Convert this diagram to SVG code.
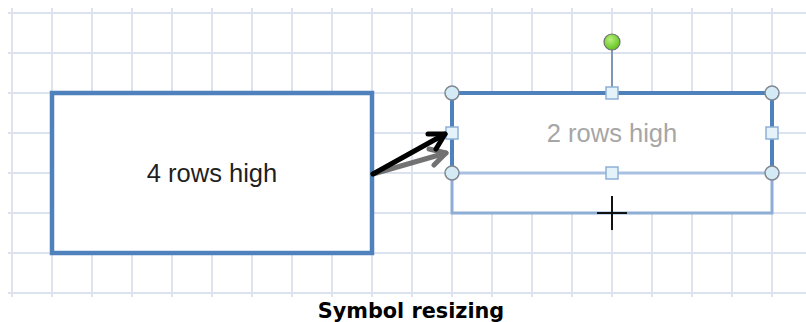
<svg xmlns="http://www.w3.org/2000/svg" width="806" height="322" viewBox="0 0 806 322">
<defs>
<style>
.grid line{stroke:#dce3ee;stroke-width:2}
.lbl{font-family:"Liberation Sans",Arial,sans-serif;font-size:25.5px;text-anchor:middle}
.hc{fill:#d4eaf4;stroke:#808890;stroke-width:1.5}
.hs{fill:#e4f3f9;stroke:#8fb0d6;stroke-width:1.5}
</style>
<radialGradient id="gg" cx="0.4" cy="0.35" r="0.7">
<stop offset="0" stop-color="#b8f07a"/><stop offset="1" stop-color="#5cbf1a"/>
</radialGradient>
<radialGradient id="bc" cx="0.4" cy="0.35" r="0.7">
<stop offset="0" stop-color="#eef8fc"/><stop offset="1" stop-color="#a9d4e6"/>
</radialGradient>
</defs>
<rect width="806" height="322" fill="#ffffff"/>
<g id="grid" class="grid">
<line x1="8" y1="13" x2="806" y2="13"/><line x1="8" y1="53" x2="806" y2="53"/><line x1="8" y1="93" x2="806" y2="93"/><line x1="8" y1="133" x2="806" y2="133"/><line x1="8" y1="173" x2="806" y2="173"/><line x1="8" y1="213" x2="806" y2="213"/><line x1="8" y1="253" x2="806" y2="253"/><line x1="8" y1="293" x2="806" y2="293"/>
<line x1="12" y1="8" x2="12" y2="297"/><line x1="52" y1="8" x2="52" y2="297"/><line x1="92" y1="8" x2="92" y2="297"/><line x1="132" y1="8" x2="132" y2="297"/><line x1="172" y1="8" x2="172" y2="297"/><line x1="212" y1="8" x2="212" y2="297"/><line x1="252" y1="8" x2="252" y2="297"/><line x1="292" y1="8" x2="292" y2="297"/><line x1="332" y1="8" x2="332" y2="297"/><line x1="372" y1="8" x2="372" y2="297"/><line x1="412" y1="8" x2="412" y2="297"/><line x1="452" y1="8" x2="452" y2="297"/><line x1="492" y1="8" x2="492" y2="297"/><line x1="532" y1="8" x2="532" y2="297"/><line x1="572" y1="8" x2="572" y2="297"/><line x1="612" y1="8" x2="612" y2="297"/><line x1="652" y1="8" x2="652" y2="297"/><line x1="692" y1="8" x2="692" y2="297"/><line x1="732" y1="8" x2="732" y2="297"/><line x1="772" y1="8" x2="772" y2="297"/>
</g>
<g id="node-left">
<rect x="52" y="93" width="320" height="160" fill="#ffffff" stroke="#4f81bd" stroke-width="4.5"/>
<text class="lbl" x="212" y="182" fill="#1f1f1f">4 rows high</text>
</g>
<g id="node-right">
<rect x="452" y="93" width="320" height="120" fill="#ffffff" stroke="none"/>
<path d="M452 173 V213 H772 V173" fill="none" stroke="#8eaed6" stroke-width="3"/>
<line x1="452" y1="173" x2="772" y2="173" stroke="#a9c1e0" stroke-width="3"/>
<path d="M452 173 V93 H772 V173" fill="none" stroke="#4f81bd" stroke-width="4"/>
<text class="lbl" x="612" y="142" fill="#a6a6a6">2 rows high</text>
<line x1="612" y1="50" x2="612" y2="88" stroke="#7f98b8" stroke-width="2"/>
<circle cx="612" cy="42" r="8" fill="url(#gg)" stroke="#707070" stroke-width="1.2"/>
<circle class="hc" cx="452" cy="93" r="7" fill="url(#bc)"/>
<circle class="hc" cx="772" cy="93" r="7" fill="url(#bc)"/>
<circle class="hc" cx="452" cy="173" r="7" fill="url(#bc)"/>
<circle class="hc" cx="772" cy="173" r="7" fill="url(#bc)"/>
<rect class="hs" x="606" y="87" width="12" height="12"/>
<rect class="hs" x="446" y="127" width="12" height="12"/>
<rect class="hs" x="766" y="127" width="12" height="12"/>
<rect class="hs" x="606" y="167" width="12" height="12"/>
<path d="M612 196 V230 M597 213 H627" stroke="#111111" stroke-width="2" fill="none"/>
</g>
<g id="connectors" fill="none" stroke-linecap="round" stroke-linejoin="round">
<g stroke="#5a5a5a" stroke-width="5" opacity="0.85">
<line x1="373" y1="174" x2="446" y2="153"/>
<polyline points="429,149 446,153 434,165"/>
</g>
<g stroke="#000000" stroke-width="5">
<line x1="373" y1="174" x2="445" y2="134"/>
<polyline points="428,134 445,134 436,149"/>
</g>
</g>
<g id="title">
<text x="411" y="318" font-family="'DejaVu Sans',Verdana,sans-serif" font-weight="bold" font-size="20.8" text-anchor="middle" fill="#000000">Symbol resizing</text>
</g>
</svg>
